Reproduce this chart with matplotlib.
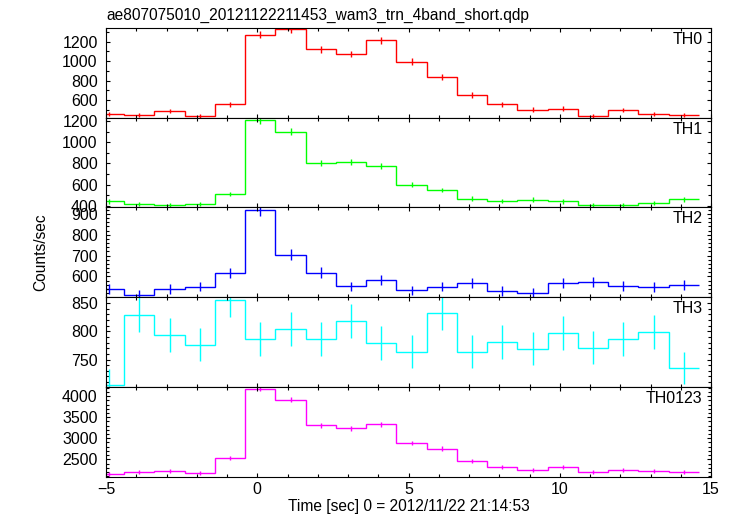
import matplotlib
matplotlib.use("Agg")
import numpy as np
import matplotlib.pyplot as plt
from matplotlib.ticker import MultipleLocator

plt.rcParams['font.family'] = ['Liberation Sans', 'DejaVu Sans']

# bin centres (sec), 1 s wide bins
time = [-4.9, -3.9, -2.9, -1.9, -0.9, 0.1, 1.1, 2.1, 3.1, 4.1,
        5.1, 6.1, 7.1, 8.1, 9.1, 10.1, 11.1, 12.1, 13.1, 14.1]
bin_width = 1.0

th0 = [460, 447, 485, 440, 554, 1270, 1329, 1121, 1072, 1215,
       996, 835, 652, 554, 502, 512, 440, 496, 460, 450]
th0_err = [21, 21, 22, 21, 24, 36, 36, 33, 33, 35, 32, 29, 26, 24, 22, 23, 21, 22, 21, 21]

th1 = [441, 416, 409, 416, 511, 1212, 1099, 805, 810, 779,
       599, 549, 466, 447, 457, 441, 407, 407, 425, 460]
th1_err = [21, 20, 20, 20, 23, 35, 33, 28, 28, 28, 24, 23, 22, 21, 21, 21, 20, 20, 21, 21]

th2 = [541, 512, 539, 551, 616, 919, 705, 619, 552, 581,
       533, 551, 568, 530, 523, 570, 575, 556, 549, 558]
th2_err = [23, 22, 23, 23, 25, 28, 28, 25, 23, 24, 23, 23, 24, 23, 23, 24, 24, 24, 23, 24]

th3 = [705, 829, 793, 776, 856, 787, 804, 787, 818, 780,
       764, 832, 764, 781, 769, 797, 771, 787, 799, 735]
th3_err = [28, 31, 30, 29, 31, 30, 30, 30, 30, 30, 29, 30, 29, 30, 29, 30, 29, 30, 30, 29]

th0123 = [2147, 2194, 2232, 2185, 2540, 4176, 3915, 3308, 3237, 3332,
          2889, 2754, 2462, 2313, 2256, 2313, 2194, 2249, 2232, 2201]
th0123_err = [46, 47, 47, 47, 50, 65, 63, 58, 57, 58, 54, 52, 50, 48, 48, 48, 47, 47, 47, 47]

panels = [
    ("TH0", th0, th0_err, "#ff0000", (420, 1345), 200, 100),
    ("TH1", th1, th1_err, "#00ff00", (385, 1235), 200, 100),
    ("TH2", th2, th2_err, "#0000ff", (501, 932), 100, 20),
    ("TH3", th3, th3_err, "#00ffff", (701.5, 860.5), 50, 10),
    ("TH0123", th0123, th0123_err, "#ff00ff", (2088, 4220), 500, 100),
]

fig = plt.figure(figsize=(7.33, 5.16), dpi=100)
left, width = 106 / 733, 605 / 733
ptop = 1 - 27.7 / 516
ph = 89.8 / 516

t = np.array(time)
edges = np.append(t - bin_width / 2, t[-1] + bin_width / 2)

for i, (name, vals, errs, col, ylim, major, minor) in enumerate(panels):
    ax = fig.add_axes([left, ptop - (i + 1) * ph, width, ph])
    ax.stairs(vals, edges, color=col, lw=1.0, baseline=None)
    ax.errorbar(time, vals, yerr=errs, fmt='none', ecolor=col, elinewidth=1.0, capsize=0)
    ax.set_xlim(-5, 15)
    ax.set_ylim(*ylim)
    ax.xaxis.set_major_locator(MultipleLocator(5))
    ax.xaxis.set_minor_locator(MultipleLocator(1))
    ax.yaxis.set_major_locator(MultipleLocator(major))
    ax.yaxis.set_minor_locator(MultipleLocator(minor))
    ax.tick_params(which='both', direction='in', top=True, right=True, labelsize=11.5)
    ax.tick_params(which='major', length=3.2, width=0.8)
    ax.tick_params(which='minor', length=2, width=0.8)
    ax.tick_params(axis='y', pad=6)
    ax.tick_params(axis='x', pad=4)
    for s in ax.spines.values():
        s.set_linewidth(0.8)
    ax.text(0.986, 0.955, name, transform=ax.transAxes, ha='right', va='top', fontsize=11.5)
    if i < len(panels) - 1:
        ax.tick_params(labelbottom=False)

fig.text(left + 0.001, 1 - 20 / 516, "ae807075010_20121122211453_wam3_trn_4band_short.qdp",
         ha='left', va='baseline', fontsize=11.2)
fig.text(41 / 733, 1 - 252 / 516, "Counts/sec", rotation=90, ha='center', va='center', fontsize=11.2)
fig.text(left + width / 2, 1 - 507 / 516, "Time [sec] 0 = 2012/11/22 21:14:53",
         ha='center', va='center', fontsize=11.2)

fig.savefig("out.png", dpi=100)
